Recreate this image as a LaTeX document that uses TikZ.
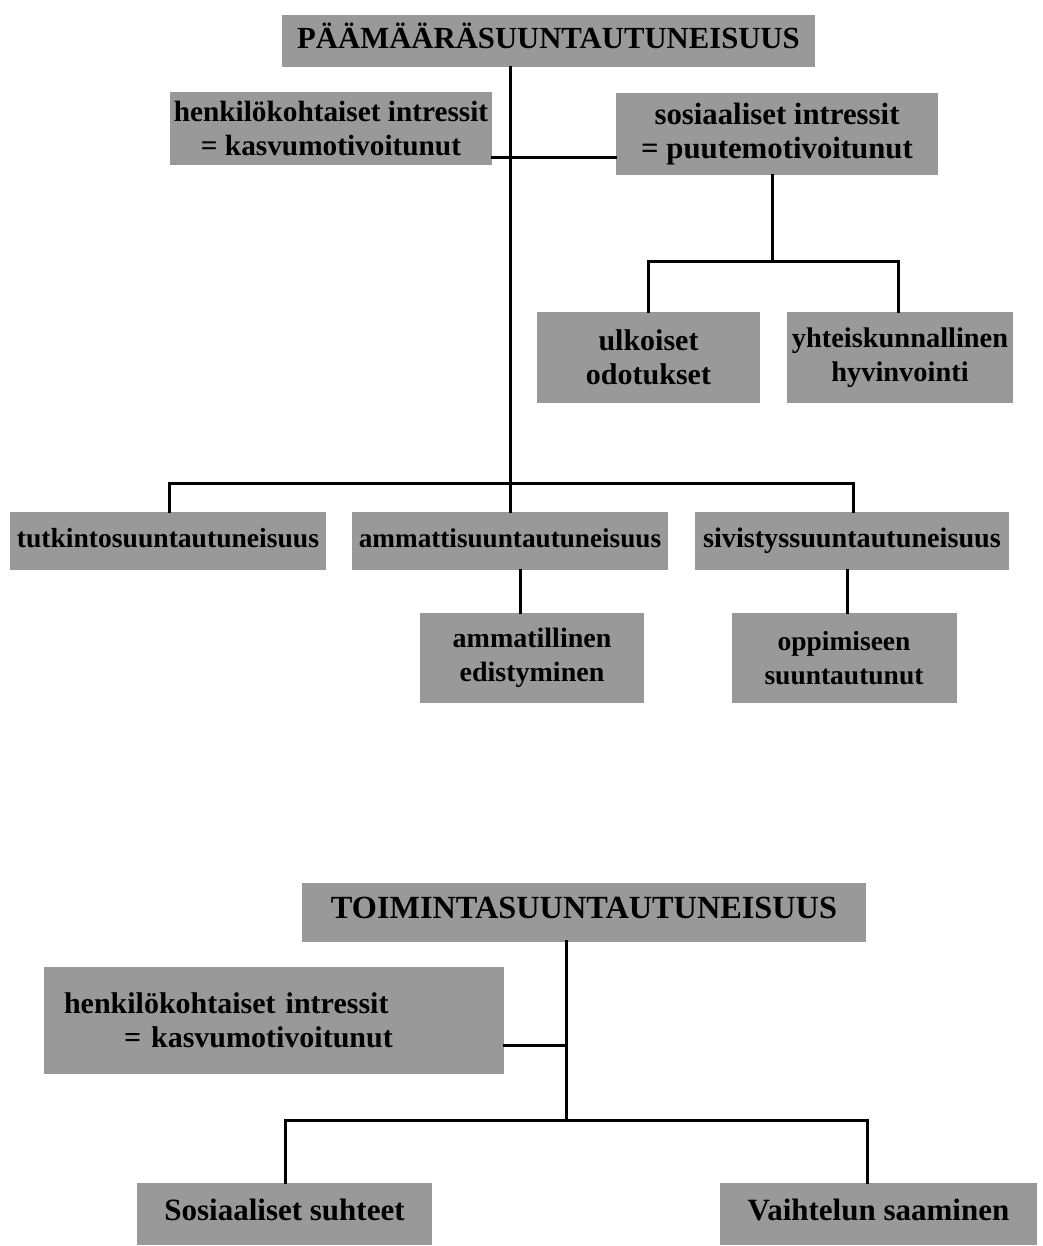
\documentclass[tikz,border=0pt]{standalone}
\usepackage{fontspec}
\setmainfont{Liberation Serif}
\newcommand{\fs}[1]{\bfseries\fontsize{#1}{34}\selectfont}
\begin{document}
\begin{tikzpicture}[x=1pt,y=-1pt,
  box/.style={fill=black!40, inner sep=0pt, align=center, font=\fs{30}},
  conn/.style={line width=3pt, line cap=rect}]
\useasboundingbox (0,0) rectangle (1042,1246);
% top tree
\node[box, font=\fs{30.7}, minimum width=533pt, minimum height=52pt] (t1) at (548.5,41) {PÄÄMÄÄRÄSUUNTAUTUNEISUUS\strut};
\node[box, font=\fs{29.3}, minimum width=322pt, minimum height=73pt] (h1) at (331,129) {henkilökohtaiset intressit\\ = kasvumotivoitunut};
\node[box, font=\fs{30.8}, minimum width=322pt, minimum height=82pt] (s1) at (777,134) {sosiaaliset intressit\\ = puutemotivoitunut};
\node[box, minimum width=223pt, minimum height=91pt] (u1) at (648.5,357.5) {ulkoiset\\ odotukset};
\node[box, font=\fs{28.4}, minimum width=226pt, minimum height=91pt] (y1) at (900,357.5) {yhteiskunnallinen\\ hyvinvointi};
\node[box, font=\fs{27.6}, minimum width=316pt, minimum height=58pt] (tk) at (168,541) {tutkintosuuntautuneisuus\strut};
\node[box, font=\fs{27.2}, minimum width=316pt, minimum height=58pt] (am) at (510,541) {ammattisuuntautuneisuus\strut};
\node[box, font=\fs{28.2}, minimum width=314pt, minimum height=58pt] (sv) at (852,541) {sivistyssuuntautuneisuus\strut};
\node[box, font=\fs{28}, minimum width=224pt, minimum height=90pt] (ae) at (532,658) {ammatillinen\\ edistyminen};
\node[box, font=\fs{27.5}, minimum width=225pt, minimum height=90pt] (op) at (844,658) {oppimiseen\\ suuntautunut};
\coordinate (j1) at (510,483);
\coordinate (j2) at (772,262);
\draw[conn] (t1.south -| j1) -- (j1);
\draw[conn] (h1.east |- 0,158) -- (s1.west |- 0,158);
\draw[conn] (s1.south -| j2) -- (j2);
\draw[conn] (u1.north -| 648,0) -- (648,262) -- (898,262) -- (y1.north -| 898,0);
\draw[conn] (tk.north -| 169,0) -- (169,483) -- (853,483) -- (sv.north -| 853,0);
\draw[conn] (j1) -- (am.north -| j1);
\draw[conn] (am.south -| 520,0) -- (ae.north -| 520,0);
\draw[conn] (sv.south -| 847,0) -- (op.north -| 847,0);
% bottom tree
\node[box, font=\fs{32.3}, minimum width=564pt, minimum height=59pt] (t2) at (584,912) {TOIMINTASUUNTAUTUNEISUUS\strut};
\node[box, minimum height=107pt, text width=420pt, inner xsep=20pt, align=left] (h2) at (274,1020) {henkilökohtaiset intressit\\ \hspace*{2em}= kasvumotivoitunut};
\node[box, font=\fs{31}, minimum width=295pt, minimum height=62pt] (ss) at (284.5,1214) {Sosiaaliset suhteet\strut};
\node[box, font=\fs{31}, minimum width=317pt, minimum height=62pt] (vs) at (878.5,1214) {Vaihtelun saaminen\strut};
\coordinate (j3) at (566,1120);
\draw[conn] (t2.south -| j3) -- (j3);
\draw[conn] (h2.east |- 0,1045) -- (j3 |- 0,1045);
\draw[conn] (ss.north -| 285,0) -- (285,1120) -- (867,1120) -- (vs.north -| 867,0);
\end{tikzpicture}
\end{document}
